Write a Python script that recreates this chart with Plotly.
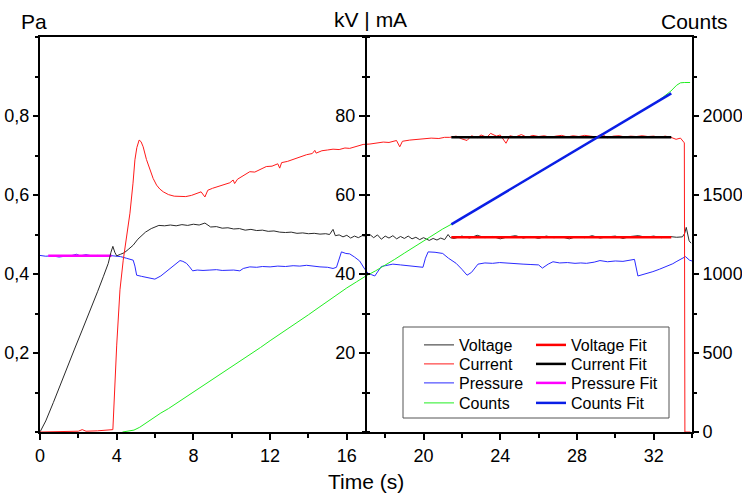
import plotly.graph_objects as go

# ---- measured series -------------------------------------------------------
# Voltage (kV) vs time (s)
volt_t = [0.0, 0.3, 0.7, 1.0, 1.4, 1.8, 2.2, 2.6, 3.0, 3.3, 3.56, 3.7, 3.8, 3.9, 4.0,
          4.2, 4.4, 4.6, 4.86, 5.1, 5.3, 5.5, 5.8, 6.0, 6.2, 6.5, 6.8, 7.1, 7.4, 7.7,
          8.0, 8.3, 8.6, 8.9, 9.2, 9.5, 9.8, 10.1, 10.4, 10.7, 11.0, 11.3, 11.6, 11.9,
          12.2, 12.5, 12.8, 13.1, 13.4, 13.7, 14.0, 14.3, 14.6, 14.9, 15.1, 15.28, 15.4,
          15.6, 15.8, 16.0, 16.2, 16.4, 16.6, 16.8, 17.0, 17.2, 17.4, 17.6, 17.8, 18.0,
          18.2, 18.4, 18.6, 18.8, 19.0, 19.2, 19.4, 19.6, 19.8, 20.0, 20.3, 20.5, 20.7,
          20.9, 21.1, 21.28, 21.4, 21.6, 22.0, 22.4, 22.8, 23.2, 23.6, 24.0, 24.4, 24.8,
          25.2, 25.6, 26.0, 26.4, 26.8, 27.2, 27.6, 28.0, 28.4, 28.8, 29.2, 29.6, 30.0,
          30.4, 30.8, 31.2, 31.6, 32.0, 32.4, 32.8, 33.2, 33.5, 33.62, 33.7, 33.78,
          33.85, 33.95]
volt_kv = [0.0, 2.8, 7.5, 11.3, 16.3, 21.0, 25.8, 30.5, 35.5, 39.3, 42.7, 45.5, 47.0,
           45.5, 44.6, 45.0, 45.4, 46.2, 47.3, 48.8, 49.8, 50.6, 51.5, 51.9, 52.3, 52.2,
           52.4, 52.2, 52.5, 52.3, 52.6, 52.4, 52.9, 51.9, 52.0, 51.6, 51.7, 51.4, 51.5,
           51.1, 51.3, 51.0, 51.1, 50.8, 50.9, 50.6, 50.5, 50.6, 50.3, 50.4, 50.2, 50.3,
           50.1, 50.2, 50.0, 51.3, 49.7, 49.9, 49.4, 49.8, 49.1, 49.6, 49.2, 49.7, 49.6,
           50.0, 49.2, 49.9, 48.8, 49.6, 49.1, 49.7, 48.9, 49.5, 49.0, 49.6, 48.9, 49.3,
           48.7, 49.2, 48.5, 49.0, 48.6, 49.1, 48.7, 50.0, 49.2, 49.0, 49.6, 49.1, 49.8,
           49.2, 49.5, 48.9, 49.4, 49.7, 49.1, 49.5, 49.0, 49.6, 49.2, 49.4, 48.9, 49.5,
           49.2, 49.7, 49.1, 49.4, 49.6, 49.0, 49.5, 49.7, 49.3, 49.6, 49.2, 49.5, 49.3,
           49.4, 50.3, 51.8, 50.0, 48.4, 47.8]

# Current (mA) vs time (s)
curr_t = [0.0, 1.5, 2.0, 2.2, 2.4, 3.0, 3.5, 3.8, 4.0, 4.17, 4.34, 4.5, 4.69, 4.85,
          4.95, 5.05, 5.17, 5.27, 5.38, 5.55, 5.73, 5.9, 6.08, 6.25, 6.43, 6.7, 7.0,
          7.3, 7.6, 7.9, 8.2, 8.4, 8.6, 8.75, 9.0, 9.3, 9.6, 9.9, 10.07, 10.15, 10.3,
          10.6, 10.94, 11.2, 11.5, 11.8, 12.1, 12.4, 12.5, 12.6, 12.9, 13.2, 13.55,
          13.9, 14.2, 14.33, 14.4, 14.7, 15.0, 15.28, 15.6, 15.9, 16.15, 16.5, 16.85,
          17.2, 17.54, 17.9, 18.2, 18.59, 18.76, 18.9, 19.28, 19.6, 20.0, 20.4, 20.8,
          21.1, 21.37, 21.7, 22.0, 22.27, 22.5, 22.8, 23.0, 23.3, 23.5, 23.8, 24.0,
          24.3, 24.5, 24.8, 25.1, 25.4, 25.7, 26.0, 26.3, 26.6, 26.9, 27.2, 27.5, 27.8,
          28.1, 28.4, 28.7, 29.0, 29.3, 29.6, 29.9, 30.2, 30.5, 30.8, 31.1, 31.4, 31.7,
          32.0, 32.3, 32.6, 32.9, 33.17, 33.4, 33.52, 33.6, 33.63, 33.92]
curr_ma = [0.0, 0.1, 0.2, 0.6, 0.2, 0.3, 0.4, 0.6, 22.0, 36.0, 43.5, 49.0, 55.4, 63.0,
           68.9, 72.0, 73.9, 73.5, 72.2, 69.0, 66.3, 64.2, 62.5, 61.5, 60.8, 60.1, 59.7,
           59.6, 59.6, 59.9, 60.5, 60.8, 59.5, 61.2, 61.7, 62.1, 62.6, 63.1, 63.8, 62.9,
           64.0, 64.8, 65.9, 65.8, 66.6, 67.2, 67.3, 67.9, 66.8, 68.2, 68.5, 69.0, 69.7,
           70.2, 70.5, 71.3, 70.6, 71.2, 71.4, 71.6, 71.5, 71.9, 71.8, 72.4, 72.8, 72.9,
           73.1, 73.4, 73.3, 73.8, 72.2, 73.6, 73.9, 74.0, 74.1, 74.4, 74.3, 74.6, 74.6,
           74.9, 74.2, 73.8, 75.0, 74.5, 75.2, 74.6, 75.6, 74.9, 75.2, 73.1, 75.0, 74.7,
           75.3, 74.6, 75.1, 74.8, 75.0, 74.6, 74.9, 75.1, 74.7, 75.0, 74.8, 75.1, 74.9,
           74.7, 75.4, 74.5, 74.9, 75.0, 74.7, 74.9, 74.8, 75.0, 74.8, 74.9, 74.6, 74.9,
           74.6, 74.1, 74.4, 73.8, 73.2, 0.0, 0.0]

# Pressure (Pa) vs time (s)
pres_t = [0.0, 0.3, 0.6, 1.0, 1.3, 1.6, 1.9, 2.1, 2.4, 2.7, 3.0, 3.3, 3.6, 3.9, 4.2,
          4.5, 4.86, 4.95, 5.04, 5.3, 5.56, 5.8, 5.99, 6.3, 6.6, 6.9, 7.1, 7.3, 7.45,
          7.64, 7.8, 7.96, 8.2, 8.5, 8.86, 9.2, 9.5, 9.8, 10.1, 10.42, 10.6, 10.94,
          11.3, 11.6, 12.0, 12.4, 12.8, 13.2, 13.55, 13.9, 14.2, 14.6, 15.0, 15.28,
          15.46, 15.6, 15.72, 15.95, 16.15, 16.4, 16.67, 16.9, 17.1, 17.3, 17.46, 17.6,
          17.8, 18.0, 18.4, 18.8, 19.2, 19.6, 19.97, 20.1, 20.24, 20.6, 21.0, 21.3,
          21.7, 22.0, 22.27, 22.5, 22.84, 23.2, 23.6, 23.97, 24.4, 24.8, 25.19, 25.6,
          26.0, 26.2, 26.5, 26.75, 27.1, 27.5, 27.9, 28.2, 28.5, 28.9, 29.2, 29.6,
          30.0, 30.4, 30.8, 31.0, 31.18, 31.5, 31.96, 32.3, 32.66, 33.0, 33.17, 33.4,
          33.66, 33.87, 34.0]
pres_pa = [0.447, 0.445, 0.446, 0.443, 0.445, 0.446, 0.450, 0.446, 0.449, 0.446, 0.447,
           0.446, 0.447, 0.446, 0.444, 0.440, 0.435, 0.420, 0.397, 0.394, 0.392, 0.389,
           0.387, 0.395, 0.406, 0.418, 0.426, 0.434, 0.432, 0.427, 0.418, 0.408, 0.410,
           0.409, 0.410, 0.411, 0.409, 0.410, 0.410, 0.408, 0.414, 0.418, 0.417, 0.419,
           0.418, 0.420, 0.419, 0.421, 0.420, 0.422, 0.420, 0.418, 0.417, 0.414, 0.417,
           0.440, 0.456, 0.452, 0.451, 0.443, 0.433, 0.415, 0.402, 0.398, 0.395, 0.405,
           0.419, 0.421, 0.425, 0.423, 0.421, 0.420, 0.417, 0.440, 0.456, 0.455, 0.452,
           0.440, 0.427, 0.412, 0.397, 0.404, 0.425, 0.428, 0.427, 0.429, 0.427, 0.426,
           0.425, 0.424, 0.423, 0.415, 0.425, 0.431, 0.428, 0.429, 0.427, 0.428, 0.427,
           0.430, 0.434, 0.431, 0.433, 0.432, 0.435, 0.437, 0.395, 0.399, 0.406, 0.412,
           0.419, 0.426, 0.431, 0.437, 0.444, 0.435, 0.433]

# Detector counts vs time (s)
cnt_t = [4.3, 4.6, 4.9, 5.2, 5.5, 5.9, 6.3, 6.7, 7.0, 7.5, 8.0, 8.5, 9.0, 9.5, 10.0,
         10.5, 11.0, 11.5, 12.0, 12.5, 13.0, 13.5, 14.0, 14.5, 15.0, 15.5, 16.0, 16.5,
         17.0, 17.5, 18.0, 18.5, 19.0, 19.5, 20.0, 20.5, 21.0, 21.5, 22.0, 23.0, 24.0,
         25.0, 26.0, 27.0, 28.0, 29.0, 30.0, 31.0, 32.0, 32.5, 32.9, 33.2, 33.4, 33.6,
         33.9]
cnt_n = [0, 4, 12, 30, 55, 90, 120, 148, 172, 212, 255, 292, 330, 370, 410, 450, 492,
         535, 578, 618, 660, 700, 742, 785, 828, 870, 912, 950, 988, 1020, 1055, 1093,
         1132, 1170, 1212, 1250, 1285, 1318, 1352, 1424, 1496, 1568, 1640, 1712, 1785,
         1857, 1930, 2002, 2075, 2120, 2158, 2195, 2210, 2212, 2212]

# ---- linear fits (start / end) --------------------------------------------
fit_t = [21.45, 32.92]
volt_fit = [49.3, 49.3]
curr_fit = [74.6, 74.6]
pres_fit_t = [0.43, 3.73]
pres_fit = [0.446, 0.446]
cnt_fit = [1314, 2143]

# ---- axis ticks ------------------------------------------------------------
time_ticks = [0, 4, 8, 12, 16, 20, 24, 28, 32]
pa_ticks = [0.2, 0.4, 0.6, 0.8]
pa_labels = ["0,2", "0,4", "0,6", "0,8"]
kv_ticks = [20, 40, 60, 80]
cnt_ticks = [0, 500, 1000, 1500, 2000]

FONT = "Arial, Liberation Sans, sans-serif"

# plot area in pixels (used to place the legend and the titles)
W, H = 742, 499
L, R, T, B = 40, 50, 37, 67
PW, PH = W - L - R, H - T - B


def px_x(x):
    return (x - L) / PW


def px_y(y):
    return (H - B - y) / PH


# legend grid: one single-entry legend per cell (two columns, four rows)
LEG_COLS = [419, 531]
LEG_ROWS = [345, 364, 383, 403]
LEG_TOP_OFFSET = 17

fig = go.Figure()

thin = dict(width=1)
thick = dict(width=2.5)
series = [
    # name, x, y, axis, colour, style, legend cell (col, row)
    ("Voltage", volt_t, volt_kv, "y2", "#2a2a2a", thin, (0, 0)),
    ("Current", curr_t, curr_ma, "y2", "#ff1a1a", thin, (0, 1)),
    ("Pressure", pres_t, pres_pa, "y", "#2a2aff", thin, (0, 2)),
    ("Counts", cnt_t, cnt_n, "y3", "#22ee22", thin, (0, 3)),
    ("Voltage Fit", fit_t, volt_fit, "y2", "#ff0000", thick, (1, 0)),
    ("Current Fit", fit_t, curr_fit, "y2", "#000000", thick, (1, 1)),
    ("Pressure Fit", pres_fit_t, pres_fit, "y", "#ff00ff", thick, (1, 2)),
    ("Counts Fit", fit_t, cnt_fit, "y3", "#0a1ee6", thick, (1, 3)),
]

legend_common = dict(orientation="v", xanchor="left", yanchor="top",
                     xref="paper", yref="paper", bgcolor="rgba(0,0,0,0)",
                     borderwidth=0, font=dict(family=FONT, size=16, color="black"),
                     itemwidth=30)
legend_layouts = {}
for i, (name, xs, ys, ax, col, style, (c, r)) in enumerate(series):
    lname = "legend" if i == 0 else f"legend{i + 1}"
    fig.add_trace(go.Scatter(x=xs, y=ys, name=name, yaxis=ax, mode="lines",
                             line=dict(color=col, **style), legend=lname))
    legend_layouts[lname] = dict(x=px_x(LEG_COLS[c]),
                                 y=px_y(LEG_ROWS[r] - LEG_TOP_OFFSET), **legend_common)

# invisible carrier for the right-hand tick stubs on the central axis
fig.add_trace(go.Scatter(x=[0], y=[0], yaxis="y4", mode="lines", showlegend=False,
                         hoverinfo="skip", line=dict(width=0)))

tickfont = dict(family=FONT, size=18, color="black")
common = dict(showgrid=False, zeroline=False, showline=True, linecolor="black",
              linewidth=2, tickcolor="black", tickwidth=1.5, tickfont=tickfont,
              automargin=False, fixedrange=True)

fig.update_layout(
    width=W, height=H,
    margin=dict(l=L, r=R, t=T, b=B),
    paper_bgcolor="white", plot_bgcolor="white",
    font=dict(family=FONT, color="black"),
    xaxis=dict(range=[0, 34], tickvals=time_ticks, ticks="outside", ticklen=6,
               minor=dict(dtick=2, tick0=0, ticks="outside", ticklen=4,
                          tickcolor="black", tickwidth=1.5),
               mirror=True, **common),
    yaxis=dict(range=[0, 1], tickvals=pa_ticks, ticktext=pa_labels, ticks="outside",
               ticklen=5, minor=dict(dtick=0.1, tick0=0, ticks="outside", ticklen=3,
                                     tickcolor="black", tickwidth=1.5),
               **common),
    yaxis2=dict(range=[0, 100], overlaying="y", anchor="free", position=0.5, side="left",
                tickvals=kv_ticks, ticks="outside", ticklen=6,
                minor=dict(dtick=10, tick0=0, ticks="outside", ticklen=3,
                           tickcolor="black", tickwidth=1.5),
                **common),
    yaxis4=dict(range=[0, 100], overlaying="y", anchor="free", position=0.5, side="right",
                tickvals=kv_ticks, ticks="outside", ticklen=3, showticklabels=False,
                minor=dict(dtick=10, tick0=0, ticks="outside", ticklen=3,
                           tickcolor="black", tickwidth=1.5),
                **common),
    yaxis3=dict(range=[0, 2500], overlaying="y", anchor="x", side="right",
                tickvals=cnt_ticks, ticks="outside", ticklen=5,
                minor=dict(dtick=250, tick0=0, ticks="outside", ticklen=3,
                           tickcolor="black", tickwidth=1.5),
                **common),
    showlegend=True,
    **legend_layouts,
)

# frame around the legend grid
fig.add_shape(type="rect", xref="paper", yref="paper",
              x0=px_x(403), x1=px_x(669), y0=px_y(418), y1=px_y(327),
              line=dict(color="#555555", width=1), fillcolor="white", layer="above")

title_font = dict(family=FONT, size=21, color="black")
for text, x, y in [("Pa", 34, 21), ("kV | mA", 370, 20),
                   ("Counts", 694, 21), ("Time (s)", 366, 481)]:
    fig.add_annotation(text=text, x=px_x(x), y=px_y(y), xref="paper", yref="paper",
                       xanchor="center", yanchor="middle", showarrow=False,
                       font=title_font)

fig.write_html("out.html")
